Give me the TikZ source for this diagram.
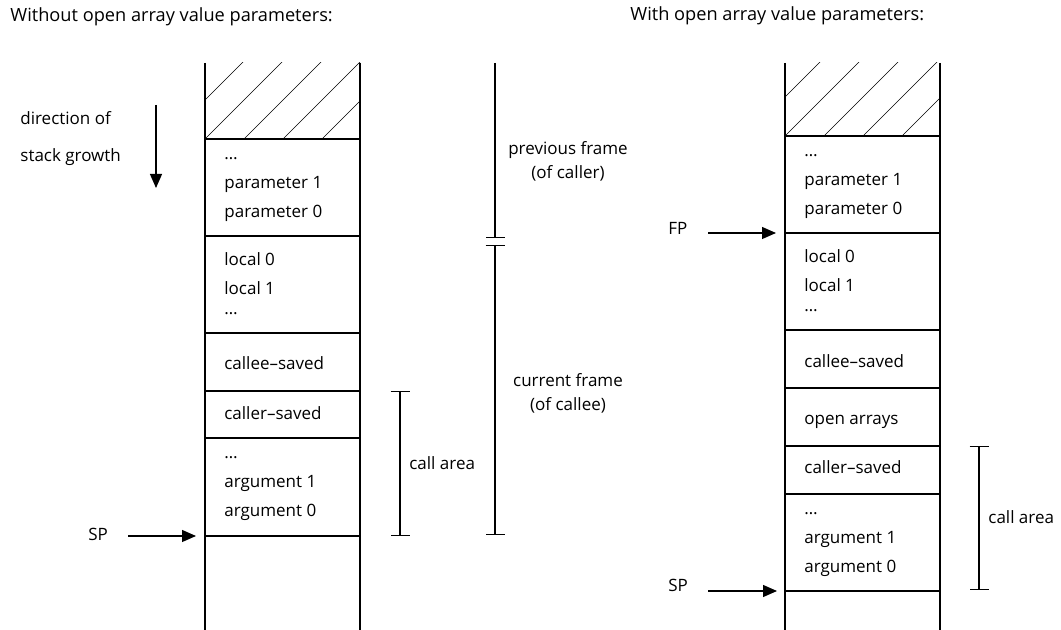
\documentclass[tikz,border=0pt]{standalone}
\usepackage{fontspec}
\setmainfont{Open Sans}
\usetikzlibrary{arrows.meta}
\usetikzlibrary{positioning}
\tikzset{wall/.style = {line width = 0.8pt}}
\tikzset{hatch/.style = {line width = 0.35pt}}
\tikzset{entry/.style = {anchor = base west, inner sep = 0, font = \fontsize{8.5}{10}\selectfont}}
\tikzset{txt/.style = {inner sep = 0, font = \fontsize{8.5}{10}\selectfont}}
\tikzset{title/.style = {inner sep = 0, anchor = west, font = \fontsize{9.1}{11}\selectfont}}
\tikzset{ptr/.style = {-{Triangle[length = 7pt, width = 6pt]}, line width = 0.6pt}}
\tikzset{span/.style = {line width = 0.6pt}}

\begin{document}
\begin{tikzpicture}[x = 0.5pt, y = -0.5pt]
      \useasboundingbox (0, 0) rectangle (1061, 630);

      \node [title] (titlel) at (10, 17) {Without open array value parameters:};
      \node [title] (titler) at (630, 16) {With open array value parameters:};

      % growth arrow
      \node [txt, anchor = west] (dir1) at (20, 118) {direction of};
      \node [txt, anchor = west] (dir2) at (20, 157) {stack growth};
      \coordinate (grow0) at (156, 105);
      \coordinate (grow1) at (156, 188);
      \draw [ptr] (grow0) -- (grow1);

      % left stack
      \draw [wall] (205, 63) -- (205, 630);
      \draw [wall] (360, 63) -- (360, 630);
      \begin{scope}
        \clip (205, 63) rectangle (360, 139);
        \foreach \d in {-39, 0, 39, 78, 117} {
          \draw [hatch] (205 + \d, 139) -- ++(80, -80);
        }
      \end{scope}
      \foreach \y in {139, 236, 333, 391, 438, 536} {
        \draw [wall] (205, \y) -- (360, \y);
      }
      \foreach \t [count = \i] in {\ldots, parameter 1, parameter 0} {
        \node [entry] (lpar\i) at (224, 131 + 29 * \i) {\t};
      }
      \foreach \t/\y [count = \i] in {local 0/266, local 1/295, \ldots/315} {
        \node [entry] (lloc\i) at (224, \y) {\t};
      }
      \node [entry] (lcallee) at (224, 370) {callee--saved};
      \node [entry] (lcaller) at (224, 420) {caller--saved};
      \foreach \t [count = \i] in {\ldots, argument 1, argument 0} {
        \node [entry] (larg\i) at (224, 430 + 29 * \i) {\t};
      }

      \node [txt, anchor = west] (lsp) at (88, 534) {SP};
      \coordinate (lspfrom) at (128, 536);
      \coordinate (lsptip) at (196, 536);
      \draw [ptr] (lspfrom) -- (lsptip);

      % brackets
      \coordinate (callt) at (400, 391);
      \coordinate (callb) at (400, 536);
      \draw [span, {Bar[width = 9.5pt]}-{Bar[width = 9.5pt]}] (callt) -- (callb);
      \node [txt, anchor = west] (lcall) at (409, 463) {call area};

      \coordinate (prevt) at (495, 63);
      \coordinate (prevb) at (495, 238);
      \coordinate (curt) at (495, 245);
      \coordinate (curb) at (495, 535);
      \draw [span, -{Bar[width = 9.5pt]}] (prevt) -- (prevb);
      \draw [span, {Bar[width = 9.5pt]}-{Bar[width = 9.5pt]}] (curt) -- (curb);
      \node [txt, align = center] (prev) at (568, 161) {previous frame\\[2pt](of caller)};
      \node [txt, align = center] (cur) at (568, 393) {current frame\\[2pt](of callee)};

      % right stack
      \draw [wall] (785, 63) -- (785, 630);
      \draw [wall] (940, 63) -- (940, 630);
      \begin{scope}
        \clip (785, 63) rectangle (940, 136);
        \foreach \d in {-39, 0, 39, 78, 117} {
          \draw [hatch] (785 + \d, 136) -- ++(80, -80);
        }
      \end{scope}
      \foreach \y in {136, 233, 330, 388, 446, 494, 591} {
        \draw [wall] (785, \y) -- (940, \y);
      }
      \foreach \t [count = \i] in {\ldots, parameter 1, parameter 0} {
        \node [entry] (rpar\i) at (804, 128 + 29 * \i) {\t};
      }
      \foreach \t/\y [count = \i] in {local 0/263, local 1/292, \ldots/312} {
        \node [entry] (rloc\i) at (804, \y) {\t};
      }
      \node [entry] (rcallee) at (804, 368) {callee--saved};
      \node [entry] (rarrays) at (804, 425) {open arrays};
      \node [entry] (rcaller) at (804, 474) {caller--saved};
      \foreach \t [count = \i] in {\ldots, argument 1, argument 0} {
        \node [entry] (rarg\i) at (804, 486 + 29 * \i) {\t};
      }

      \node [txt, anchor = west] (fp) at (668, 228) {FP};
      \coordinate (fpfrom) at (708, 233);
      \coordinate (fptip) at (776, 233);
      \draw [ptr] (fpfrom) -- (fptip);
      \node [txt, anchor = west] (rsp) at (668, 585) {SP};
      \coordinate (rspfrom) at (708, 591);
      \coordinate (rsptip) at (777, 591);
      \draw [ptr] (rspfrom) -- (rsptip);

      \coordinate (rcallt) at (979, 446);
      \coordinate (rcallb) at (979, 590);
      \draw [span, {Bar[width = 9.5pt]}-{Bar[width = 9.5pt]}] (rcallt) -- (rcallb);
      \node [txt, anchor = west] (rcall) at (988, 517) {call area};
    \end{tikzpicture}
\end{document}
